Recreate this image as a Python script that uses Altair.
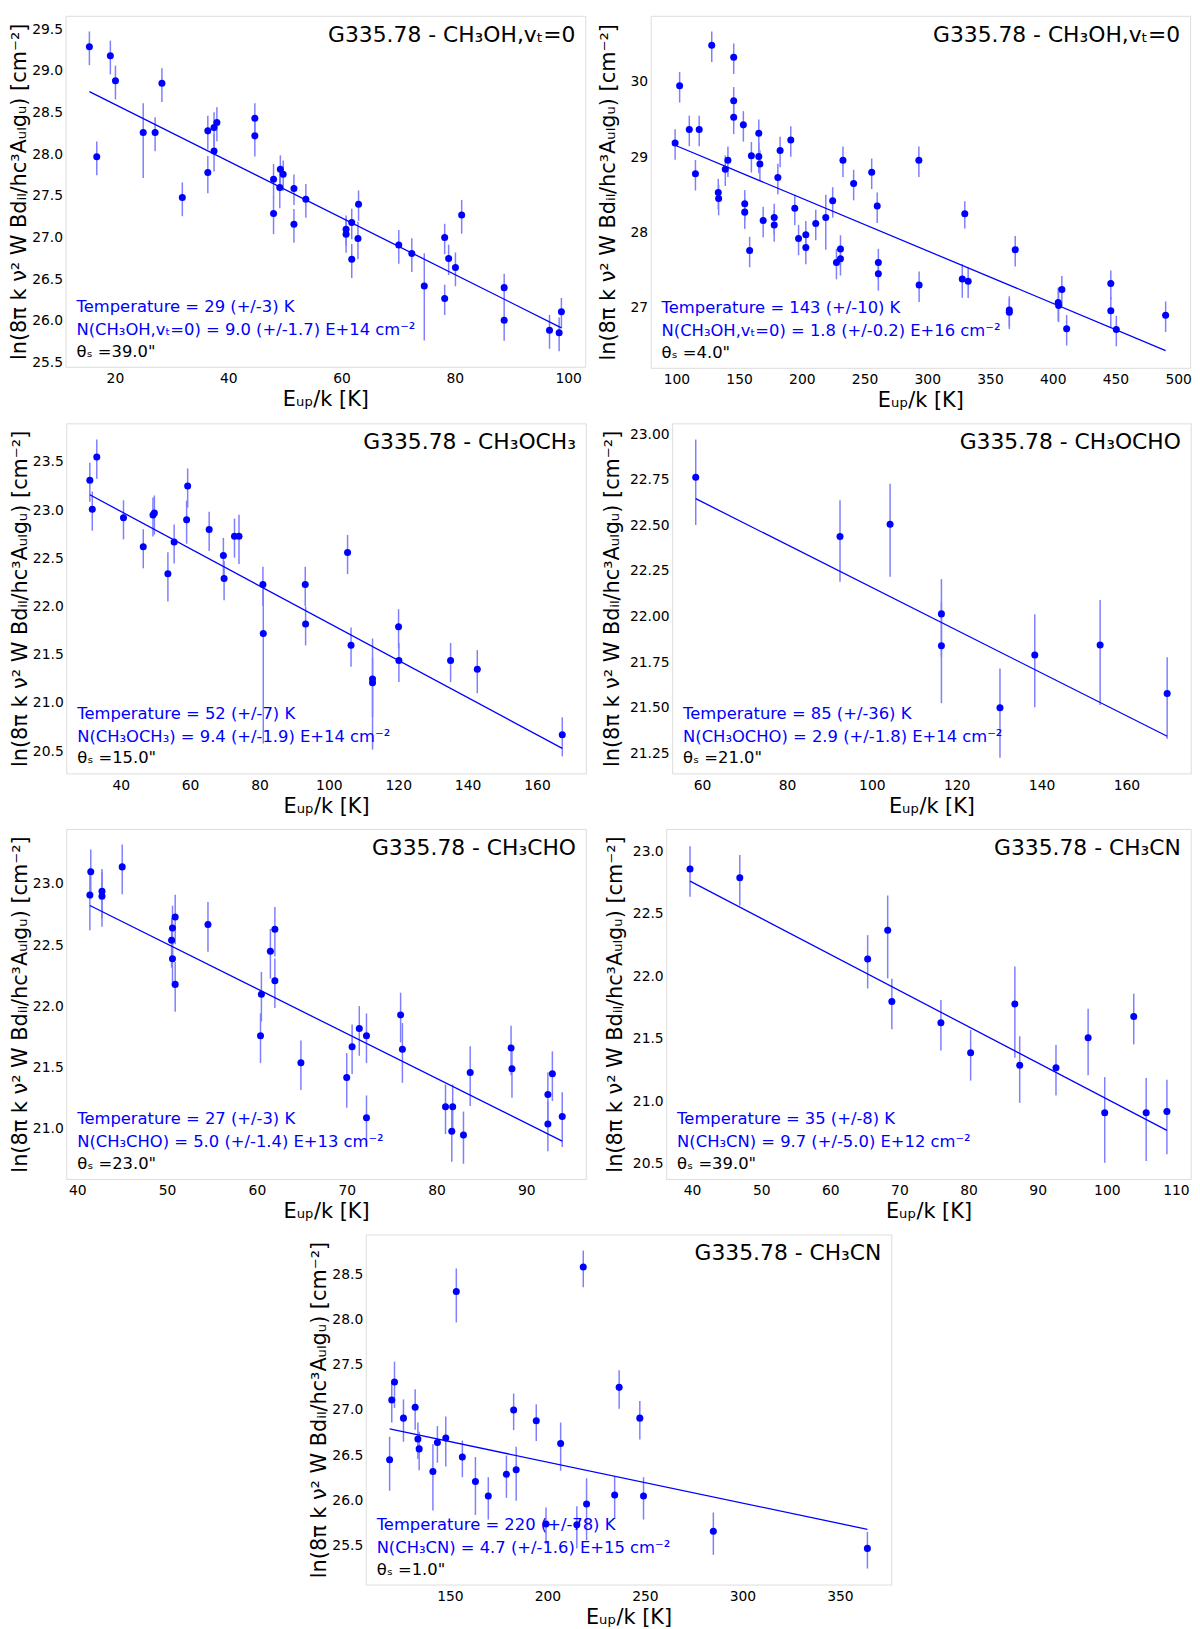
import altair as alt
import pandas as pd
import numpy as np

# ---------------- data ----------------
# Panel 1: CH3OH, vt=0 (theta 39")
x1 = [15.5,16.8,19.2,20.1,25.0,27.1,28.3,31.9,36.4,36.4,37.5,37.5,38.0,44.7,44.7,48.0,48.0,49.1,49.2,49.7,51.6,51.6,53.7,60.8,60.8,61.8,61.8,63.0,62.9,70.1,72.4,74.6,78.2,78.2,78.9,80.1,81.2,88.7,88.7,96.7,98.4,98.8]
y1 = [29.29,27.97,29.18,28.88,28.26,28.26,28.85,27.48,28.28,27.78,28.32,28.04,28.38,28.43,28.22,27.70,27.29,27.60,27.82,27.76,27.59,27.16,27.46,27.10,27.04,27.18,26.74,27.40,26.99,26.91,26.81,26.42,27.00,26.27,26.75,26.64,27.27,26.40,26.01,25.89,25.86,26.11]
r1 = [.2,.2,.2,.2,.42,.2,.2,.2,.2,.22,.2,.22,.2,.2,.22,.2,.22,.22,.18,.18,.18,.2,.2,.18,.2,.18,.2,.18,.22,.2,.2,.48,.18,.18,.18,.2,.2,.18,.22,.2,.2,.18]
fit1 = [29.277, -0.0340]

# Panel 2: CH3OH, vt=0 (theta 4")
x2 = [99,102.6,110.3,118.2,115.2,128.2,133.4,133.7,139.0,141.1,145.7,145.7,145.7,153.4,154.5,154.5,158.4,159.8,165.7,165.7,166.6,169.2,178.0,178.0,180.9,182.7,191.2,194.4,197.4,203.2,203.2,211.1,219.1,224.6,227.6,230.8,230.8,232.8,241.3,255.7,260.1,261.0,261.0,293.3,293.5,327.9,332.6,329.9,365.4,365.4,370.1,404.4,404.7,407.3,411.1,446.3,446.3,450.7,490.0]
y2 = [29.19,29.95,29.37,29.37,28.78,30.49,28.53,28.45,28.84,28.96,30.33,29.75,29.53,29.43,28.38,28.27,27.76,29.02,29.32,29.01,28.91,28.16,28.20,28.10,28.73,29.09,29.23,28.32,27.92,27.97,27.80,28.12,28.20,28.42,27.60,27.65,27.78,28.96,28.65,28.80,28.35,27.60,27.45,28.96,27.30,27.38,27.35,28.25,26.97,26.94,27.77,27.07,27.03,27.24,26.72,27.32,26.96,26.71,26.90]
r2 = [.2,.2,.2,.2,.2,.2,.2,.2,.2,.2,.2,.2,.2,.2,.2,.2,.2,.2,.2,.2,.2,.2,.2,.2,.2,.2,.2,.2,.2,.2,.2,.2,.35,.2,.2,.2,.2,.2,.2,.2,.2,.2,.2,.2,.2,.22,.2,.18,.2,.2,.2,.22,.2,.2,.2,.19,.2,.2,.2]
fit2 = [29.85, -0.00698]

# Panel 3: CH3OCH3
x3 = [31.1,31.8,33.1,40.8,46.5,49.3,49.7,53.6,55.4,59.0,59.3,65.5,69.6,69.8,72.8,74.1,81.0,81.1,93.2,93.3,105.4,106.4,112.6,112.6,120.1,120.2,135.1,142.8,167.3]
y3 = [23.31,23.01,23.55,22.92,22.62,22.95,22.97,22.34,22.67,22.90,23.25,22.80,22.53,22.29,22.73,22.73,22.23,21.72,22.23,21.82,22.56,21.60,21.25,21.21,21.79,21.44,21.44,21.35,20.67]
r3 = [.2,.2,.2,.2,.2,.2,.2,.25,.2,.22,.2,.2,.2,.2,.2,.25,.2,.68,.2,.2,.2,.2,.52,.3,.2,.2,.2,.22,.2]
fit3 = [23.76, -0.01931]

# Panel 4: CH3OCHO
x4 = [58.5,92.5,104.3,116.4,116.4,130.2,138.4,153.8,169.6]
y4 = [22.764,22.44,22.506,22.015,21.84,21.50,21.79,21.844,21.578]
r4 = [.23,.22,.25,.21,.27,.24,.25,.28,.22]
fit4 = [23.333, -0.01173]

# Panel 5: CH3CHO
x5 = [41.4,41.5,42.75,42.75,45.0,50.5,50.6,50.6,50.9,50.9,54.55,60.5,60.4,61.5,62.0,62.0,64.9,70.0,70.6,71.4,72.2,72.2,76.0,76.2,81.0,81.8,81.7,83.0,83.75,88.3,88.4,92.4,92.4,92.9,94.0]
y5 = [22.91,23.10,22.94,22.90,23.14,22.54,22.64,22.39,22.73,22.18,22.67,22.10,21.76,22.45,22.63,22.21,21.54,21.42,21.67,21.82,21.76,21.09,21.93,21.65,21.18,21.18,20.98,20.95,21.46,21.66,21.49,21.28,21.04,21.45,21.10]
r5 = [.25,.2,.2,.22,.2,.2,.2,.2,.2,.2,.2,.2,.2,.2,.2,.2,.2,.22,.2,.2,.2,.2,.2,.24,.2,.2,.22,.21,.24,.2,.21,.2,.2,.2,.22]
fit5 = [24.34, -0.0366]

# Panel 6: CH3CN (theta 39")
x6 = [39.7,46.9,65.4,68.3,68.9,76.0,80.3,86.7,87.4,92.65,97.3,99.7,103.9,105.7,108.7]
y6 = [22.86,22.79,22.14,22.37,21.80,21.63,21.39,21.78,21.29,21.27,21.51,20.91,21.68,20.91,20.92]
r6 = [.2,.2,.21,.32,.2,.2,.2,.35,.26,.2,.26,.33,.2,.32,.29]
fit6 = [23.91, -0.0289]

# Panel 7: CH3CN (theta 1")
x7 = [119.1,120.2,121.6,126.2,132.2,133.6,134.25,141.3,143.6,147.9,153.3,156.4,163.1,169.7,179.0,182.7,184.0,194.3,199.3,206.8,215.1,218.4,220.1,234.5,236.8,247.4,249.3,285.1,364.1]
y7 = [26.45,27.11,27.31,26.91,27.03,26.68,26.57,26.32,26.64,26.69,28.31,26.48,26.21,26.05,26.29,27.00,26.34,26.88,25.74,26.63,25.73,28.58,25.96,26.06,27.25,26.91,26.05,25.66,25.47]
r7 = [.29,.22,.25,.23,.22,.2,.21,.35,.2,.27,.29,.2,.31,.23,.23,.2,.29,.2,.2,.26,.23,.2,.33,.23,.21,.21,.23,.23,.2]
fit7 = [27.33, -0.00453]

# axis domains and ticks
xdoms = [[11.3,103.0],[79.5,509.5],[24.3,174.1],[52.94,175.16],[38.77,96.63],[36.25,112.15],[106.85,376.35]]
ydoms = [[25.45,29.66],[26.2,30.88],[20.27,23.9],[21.14,23.06],[20.59,23.45],[20.38,23.18],[25.07,28.94]]
xticks = [[20,40,60,80,100],[100,150,200,250,300,350,400,450,500],[40,60,80,100,120,140,160],
          [60,80,100,120,140,160],[40,50,60,70,80,90],[40,50,60,70,80,90,100,110],[150,200,250,300,350]]
yticks = [[25.5,26.0,26.5,27.0,27.5,28.0,28.5,29.0,29.5],[27,28,29,30],
          [20.5,21.0,21.5,22.0,22.5,23.0,23.5],[21.25,21.5,21.75,22.0,22.25,22.5,22.75,23.0],
          [21.0,21.5,22.0,22.5,23.0],[20.5,21.0,21.5,22.0,22.5,23.0],[25.5,26.0,26.5,27.0,27.5,28.0,28.5]]
yfmts = [".1f", "d", ".1f", ".2f", ".1f", ".1f", ".1f"]

titles = ["G335.78 - CH₃OH,vₜ=0", "G335.78 - CH₃OH,vₜ=0", "G335.78 - CH₃OCH₃", "G335.78 - CH₃OCHO",
          "G335.78 - CH₃CHO", "G335.78 - CH₃CN", "G335.78 - CH₃CN"]
temps = ["Temperature = 29 (+/-3) K", "Temperature = 143 (+/-10) K", "Temperature = 52 (+/-7) K",
         "Temperature = 85 (+/-36) K", "Temperature = 27 (+/-3) K", "Temperature = 35 (+/-8) K",
         "Temperature = 220 (+/-78) K"]
cols = ["N(CH₃OH,vₜ=0) = 9.0 (+/-1.7) E+14 cm⁻²", "N(CH₃OH,vₜ=0) = 1.8 (+/-0.2) E+16 cm⁻²",
        "N(CH₃OCH₃) = 9.4 (+/-1.9) E+14 cm⁻²", "N(CH₃OCHO) = 2.9 (+/-1.8) E+14 cm⁻²",
        "N(CH₃CHO) = 5.0 (+/-1.4) E+13 cm⁻²", "N(CH₃CN) = 9.7 (+/-5.0) E+12 cm⁻²",
        "N(CH₃CN) = 4.7 (+/-1.6) E+15 cm⁻²"]
thetas = ["θₛ =39.0\"", "θₛ =4.0\"", "θₛ =15.0\"", "θₛ =21.0\"", "θₛ =23.0\"", "θₛ =39.0\"", "θₛ =1.0\""]

XTITLE = "Eᵤₚ/k [K]"
YTITLE = "ln(8π k ν² W Bdᵢₗ/hc³Aᵤₗgᵤ) [cm⁻²]"
FONT = "DejaVu Sans"
BLUE = "#0000ff"
AXSTYLE = dict(labelFont=FONT, titleFont=FONT, labelFontSize=14, titleFontSize=21,
               labelColor="black", titleColor="black", titleFontWeight="normal",
               grid=False, ticks=False, domain=False, labelFlush=False, labelOverlap=False)


def panel(i, x, y, r, fit, w, h, tpad):
    df = pd.DataFrame({"x": x, "y": y, "r": r})
    df["lo"] = df["y"] + np.log(1 - df["r"])
    df["hi"] = df["y"] + np.log(1 + df["r"])
    ldf = pd.DataFrame({"x": [min(x), max(x)]})
    ldf["y"] = fit[0] + fit[1] * ldf["x"]

    xs = alt.Scale(domain=xdoms[i], nice=False, zero=False)
    ys = alt.Scale(domain=ydoms[i], nice=False, zero=False)
    xax = alt.Axis(values=xticks[i], format="d", title=XTITLE, labelPadding=5, titlePadding=3, **AXSTYLE)
    yax = alt.Axis(values=yticks[i], format=yfmts[i], title=YTITLE, labelPadding=3, titlePadding=tpad,
                   **AXSTYLE)

    bars = alt.Chart(df).mark_rule(color="#7f7fff", strokeWidth=1.5).encode(
        x=alt.X("x:Q", scale=xs, axis=xax),
        y=alt.Y("lo:Q", scale=ys, axis=yax),
        y2="hi:Q")
    pts = alt.Chart(df).mark_circle(color=BLUE, size=50, opacity=1).encode(
        x=alt.X("x:Q", scale=xs, axis=xax), y=alt.Y("y:Q", scale=ys, axis=yax))
    line = alt.Chart(ldf).mark_line(color=BLUE, strokeWidth=1.3).encode(
        x=alt.X("x:Q", scale=xs, axis=xax), y=alt.Y("y:Q", scale=ys, axis=yax))

    ttl = alt.Chart(pd.DataFrame({"t": [titles[i]]})).mark_text(
        align="right", baseline="alphabetic", font=FONT, fontSize=22, color="black").encode(
        x=alt.value(w - 10), y=alt.value(26), text="t:N")
    a1 = alt.Chart(pd.DataFrame({"t": [temps[i]]})).mark_text(
        align="left", baseline="alphabetic", font=FONT, fontSize=16.5, color=BLUE).encode(
        x=alt.value(11), y=alt.value(h - 55), text="t:N")
    a2 = alt.Chart(pd.DataFrame({"t": [cols[i]]})).mark_text(
        align="left", baseline="alphabetic", font=FONT, fontSize=16.5, color=BLUE).encode(
        x=alt.value(11), y=alt.value(h - 32), text="t:N")
    a3 = alt.Chart(pd.DataFrame({"t": [thetas[i]]})).mark_text(
        align="left", baseline="alphabetic", font=FONT, fontSize=16.5, color="black").encode(
        x=alt.value(11), y=alt.value(h - 10), text="t:N")

    return alt.layer(bars, line, pts, ttl, a1, a2, a3).properties(width=w, height=h)


p1 = panel(0, x1, y1, r1, fit1, 524, 354, 2)
p2 = panel(1, x2, y2, r2, fit2, 544, 355, 12)
p3 = panel(2, x3, y3, r3, fit3, 524, 353, 2)
p4 = panel(3, x4, y4, r4, fit4, 523, 353, 7)
p5 = panel(4, x5, y5, r5, fit5, 524, 353, 2)
p6 = panel(5, x6, y6, r6, fit6, 529, 353, 7)
p7 = panel(6, x7, y7, r7, fit7, 530, 353, 2)

row1 = alt.hconcat(p1, p2, spacing=10)
row2 = alt.hconcat(p3, p4, spacing=14)
row3 = alt.hconcat(p5, p6, spacing=17)

chart = alt.vconcat(row1, row2, row3, p7, spacing=11, center=True).properties(
    padding={"left": 0, "top": 0, "right": 0, "bottom": 0}
).configure_view(stroke="#808080", strokeWidth=1.3).configure(background="white")

chart.save("out.html", embed_options={"renderer": "svg", "actions": False})
